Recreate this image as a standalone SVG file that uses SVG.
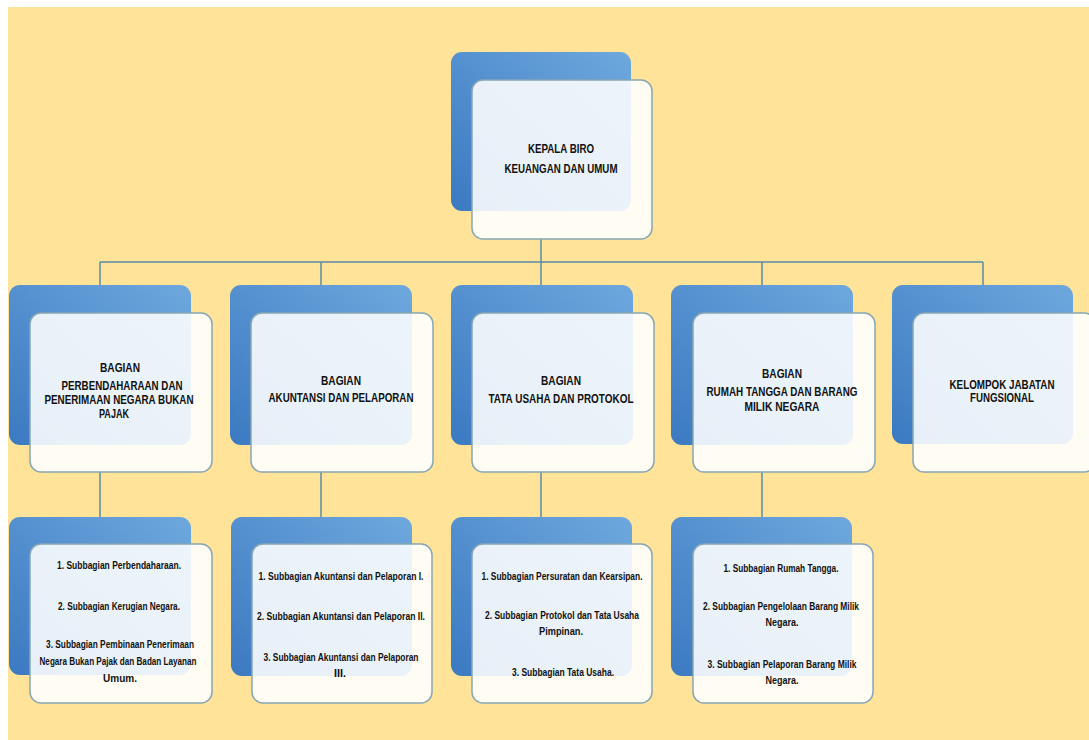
<svg xmlns="http://www.w3.org/2000/svg" width="1089" height="740" viewBox="0 0 1089 740">
<defs>
<linearGradient id="blue" x1="0" y1="1" x2="1" y2="0">
<stop offset="0" stop-color="#3b79c1"/>
<stop offset="1" stop-color="#6ea8de"/>
</linearGradient>
<style>
.back{fill:url(#blue);}
.front{fill:#ffffff;fill-opacity:0.88;stroke:#86a7b3;stroke-width:1.5;}
.conn{stroke:#5b8ca5;stroke-width:1.5;fill:none;}
.h{font-family:"Liberation Sans",Arial,sans-serif;font-size:12px;font-weight:bold;fill:#111111;text-anchor:middle;}
.s{font-family:"Liberation Sans",Arial,sans-serif;font-size:10.5px;font-weight:bold;fill:#111111;text-anchor:middle;}
</style>
</defs>
<rect x="0" y="0" width="1089" height="740" fill="#ffffff"/>
<rect x="8" y="7" width="1081" height="733" fill="#ffe398"/>
<g id="connectors">
<path class="conn" d="M541 239V262M100 262H983M100 262V285M321 262V285M541 262V285M762 262V285M983 262V285"/>
<path class="conn" d="M100 472V517M321 472V517M541 472V517M762 472V517"/>
</g>
<g id="kepala">
<rect class="back" x="451" y="52" width="180" height="159" rx="11"/>
<rect class="front" x="472" y="80" width="180" height="159" rx="11"/>
<text class="h" x="561" y="153" textLength="66" lengthAdjust="spacingAndGlyphs">KEPALA BIRO</text>
<text class="h" x="561" y="172.5" textLength="113" lengthAdjust="spacingAndGlyphs">KEUANGAN DAN UMUM</text>
</g>
<g id="bagian1">
<rect class="back" x="9" y="285" width="182" height="160" rx="11"/>
<rect class="front" x="30" y="313" width="182" height="159" rx="11"/>
<text class="h" x="120" y="372" textLength="40" lengthAdjust="spacingAndGlyphs">BAGIAN</text>
<text class="h" x="122" y="390" textLength="121" lengthAdjust="spacingAndGlyphs">PERBENDAHARAAN DAN</text>
<text class="h" x="119" y="404" textLength="149" lengthAdjust="spacingAndGlyphs">PENERIMAAN NEGARA BUKAN</text>
<text class="h" x="114" y="418" textLength="30" lengthAdjust="spacingAndGlyphs">PAJAK</text>
</g>
<g id="bagian2">
<rect class="back" x="230" y="285" width="182" height="160" rx="11"/>
<rect class="front" x="251" y="313" width="182" height="159" rx="11"/>
<text class="h" x="341" y="385" textLength="40" lengthAdjust="spacingAndGlyphs">BAGIAN</text>
<text class="h" x="341" y="402" textLength="145" lengthAdjust="spacingAndGlyphs">AKUNTANSI DAN PELAPORAN</text>
</g>
<g id="bagian3">
<rect class="back" x="451" y="285" width="182" height="160" rx="11"/>
<rect class="front" x="472" y="313" width="182" height="159" rx="11"/>
<text class="h" x="561" y="385" textLength="40" lengthAdjust="spacingAndGlyphs">BAGIAN</text>
<text class="h" x="561" y="403" textLength="145" lengthAdjust="spacingAndGlyphs">TATA USAHA DAN PROTOKOL</text>
</g>
<g id="bagian4">
<rect class="back" x="671" y="285" width="182" height="160" rx="11"/>
<rect class="front" x="693" y="313" width="182" height="159" rx="11"/>
<text class="h" x="782" y="378" textLength="40" lengthAdjust="spacingAndGlyphs">BAGIAN</text>
<text class="h" x="782" y="396" textLength="151" lengthAdjust="spacingAndGlyphs">RUMAH TANGGA DAN BARANG</text>
<text class="h" x="782" y="411" textLength="75" lengthAdjust="spacingAndGlyphs">MILIK NEGARA</text>
</g>
<g id="fungsional">
<rect class="back" x="892" y="285" width="181" height="159" rx="11"/>
<rect class="front" x="913" y="313" width="182" height="159" rx="11"/>
<text class="h" x="1002" y="389" textLength="105" lengthAdjust="spacingAndGlyphs">KELOMPOK JABATAN</text>
<text class="h" x="1002" y="402" textLength="64" lengthAdjust="spacingAndGlyphs">FUNGSIONAL</text>
</g>
<g id="sub1">
<rect class="back" x="9" y="517" width="182" height="158" rx="11"/>
<rect class="front" x="30" y="544" width="182" height="159" rx="11"/>
<text class="s" x="119" y="568.5" textLength="124" lengthAdjust="spacingAndGlyphs">1. Subbagian Perbendaharaan.</text>
<text class="s" x="119" y="609.5" textLength="122" lengthAdjust="spacingAndGlyphs">2. Subbagian Kerugian Negara.</text>
<text class="s" x="120" y="647.5" textLength="148" lengthAdjust="spacingAndGlyphs">3. Subbagian Pembinaan Penerimaan</text>
<text class="s" x="118" y="664.5" textLength="157" lengthAdjust="spacingAndGlyphs">Negara Bukan Pajak dan Badan Layanan</text>
<text class="s" x="120" y="681.5" textLength="34" lengthAdjust="spacingAndGlyphs">Umum.</text>
</g>
<g id="sub2">
<rect class="back" x="231" y="517" width="181" height="159" rx="11"/>
<rect class="front" x="252" y="544" width="180" height="159" rx="11"/>
<text class="s" x="341" y="579.5" textLength="165" lengthAdjust="spacingAndGlyphs">1. Subbagian Akuntansi dan Pelaporan I.</text>
<text class="s" x="341" y="619.5" textLength="168" lengthAdjust="spacingAndGlyphs">2. Subbagian Akuntansi dan Pelaporan II.</text>
<text class="s" x="341" y="660.5" textLength="155" lengthAdjust="spacingAndGlyphs">3. Subbagian Akuntansi dan Pelaporan</text>
<text class="s" x="340" y="676.5" textLength="12" lengthAdjust="spacingAndGlyphs">III.</text>
</g>
<g id="sub3">
<rect class="back" x="451" y="517" width="181" height="159" rx="11"/>
<rect class="front" x="472" y="544" width="180" height="159" rx="11"/>
<text class="s" x="562" y="579.5" textLength="161" lengthAdjust="spacingAndGlyphs">1. Subbagian Persuratan dan Kearsipan.</text>
<text class="s" x="562" y="618.5" textLength="154" lengthAdjust="spacingAndGlyphs">2. Subbagian Protokol dan Tata Usaha</text>
<text class="s" x="561" y="634.5" textLength="44" lengthAdjust="spacingAndGlyphs">Pimpinan.</text>
<text class="s" x="563" y="675.5" textLength="102" lengthAdjust="spacingAndGlyphs">3. Subbagian Tata Usaha.</text>
</g>
<g id="sub4">
<rect class="back" x="671" y="517" width="181" height="159" rx="11"/>
<rect class="front" x="693" y="544" width="180" height="159" rx="11"/>
<text class="s" x="781" y="571.5" textLength="115" lengthAdjust="spacingAndGlyphs">1. Subbagian Rumah Tangga.</text>
<text class="s" x="781" y="609.5" textLength="156" lengthAdjust="spacingAndGlyphs">2. Subbagian Pengelolaan Barang Milik</text>
<text class="s" x="782" y="625.5" textLength="33" lengthAdjust="spacingAndGlyphs">Negara.</text>
<text class="s" x="782" y="667.5" textLength="149" lengthAdjust="spacingAndGlyphs">3. Subbagian Pelaporan Barang Milik</text>
<text class="s" x="782" y="683.5" textLength="33" lengthAdjust="spacingAndGlyphs">Negara.</text>
</g>
</svg>
